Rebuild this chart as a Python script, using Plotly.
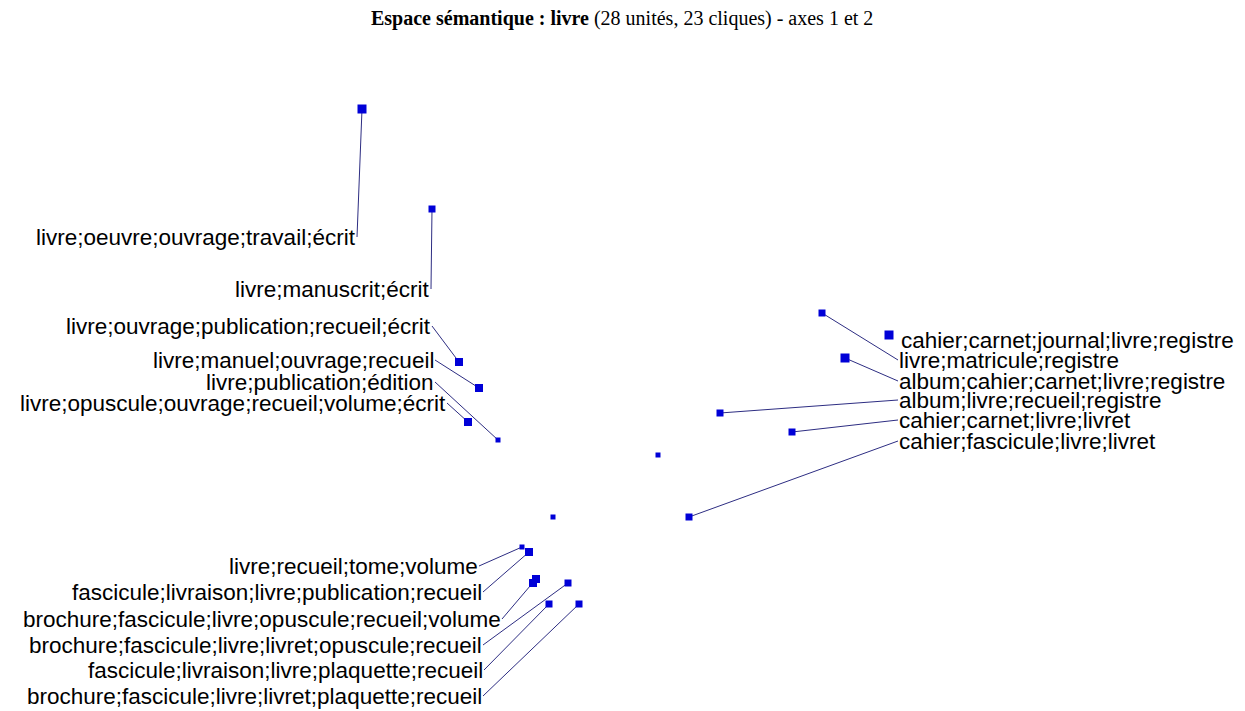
import plotly.graph_objects as go

# ---- data: factor scores (axis 1, axis 2) of the units ----
unit_f1 = [-2.48, -1.78, -1.51, -1.31, -1.42, -1.12, 0.48, -0.57,
           -0.88, -0.81, -0.74, -0.77, -0.42, -0.61, -0.31,
           2.12, 2.79, 2.35, 1.10, 1.82, 0.79]
unit_f2 = [3.46, 2.46, 0.93, 0.67, 0.33, 0.15, 0.00, -0.62,
           -0.92, -0.97, -1.24, -1.28, -1.28, -1.49, -1.49,
           1.42, 1.20, 0.97, 0.42, 0.23, -0.62]
unit_weight = [9, 7, 8, 8, 8, 5, 5, 5,
               5, 8, 8, 8, 7, 7, 7,
               7, 9, 9, 7, 7, 7]
unit_labels = [
    "livre;oeuvre;ouvrage;travail;écrit",
    "livre;manuscrit;écrit",
    "livre;ouvrage;publication;recueil;écrit",
    "livre;manuel;ouvrage;recueil",
    "livre;opuscule;ouvrage;recueil;volume;écrit",
    "livre;publication;édition",
    "",
    "",
    "livre;recueil;tome;volume",
    "fascicule;livraison;livre;publication;recueil",
    "brochure;fascicule;livre;opuscule;recueil;volume",
    "",
    "brochure;fascicule;livre;livret;opuscule;recueil",
    "fascicule;livraison;livre;plaquette;recueil",
    "brochure;fascicule;livre;livret;plaquette;recueil",
    "livre;matricule;registre",
    "cahier;carnet;journal;livre;registre",
    "album;cahier;carnet;livre;registre",
    "album;livre;recueil;registre",
    "cahier;carnet;livre;livret",
    "cahier;fascicule;livre;livret",
]

# ---- layout: label anchor positions (same plane units), side, leader line ----
label_pos = [
    (-2.53, 2.18, "right", True),
    (-1.79, 1.66, "right", True),
    (-1.78, 1.29, "right", True),
    (-1.75, 0.95, "right", True),
    (-1.63, 0.52, "right", True),
    (-1.75, 0.73, "right", True),
    None,
    None,
    (-1.31, -1.11, "right", True),
    (-1.27, -1.37, "right", True),
    (-1.08, -1.64, "right", True),
    None,
    (-1.27, -1.90, "right", True),
    (-1.26, -2.15, "right", True),
    (-1.27, -2.41, "right", True),
    (2.88, 0.95, "left", True),
    (2.90, 1.15, "left", False),
    (2.88, 0.74, "left", True),
    (2.88, 0.55, "left", True),
    (2.88, 0.35, "left", True),
    (2.88, 0.14, "left", True),
]

TITLE = "<b>Espace sémantique : livre</b> (28 unités, 23 cliques) - axes 1 et 2"

fig = go.Figure()

# leader lines
lx, ly = [], []
for i, pos in enumerate(label_pos):
    if pos is None or not pos[3]:
        continue
    lx += [pos[0], unit_f1[i], None]
    ly += [pos[1], unit_f2[i], None]
fig.add_trace(go.Scatter(x=lx, y=ly, mode="lines",
                         line=dict(color="rgb(45,45,130)", width=1),
                         hoverinfo="skip", showlegend=False))

# unit markers
fig.add_trace(go.Scatter(x=unit_f1, y=unit_f2, mode="markers",
                         marker=dict(symbol="square", size=unit_weight,
                                     color="rgb(0,0,215)", opacity=1,
                                     line=dict(width=0)),
                         text=unit_labels, hoverinfo="text", showlegend=False))

# labels
for i, pos in enumerate(label_pos):
    if pos is None:
        continue
    fig.add_annotation(x=pos[0], y=pos[1], text=unit_labels[i],
                       showarrow=False, xanchor=pos[2], yanchor="middle",
                       borderpad=0,
                       font=dict(family="Liberation Sans, Arial", size=22.5,
                                 color="black"))

fig.update_layout(
    width=1237, height=703,
    margin=dict(l=0, r=0, t=0, b=0),
    paper_bgcolor="white", plot_bgcolor="white",
    title=dict(text=TITLE, x=0.4965, xanchor="center", y=0.986,
               yanchor="middle", yref="container",
               font=dict(family="Liberation Serif, Times New Roman",
                         size=20, color="black")),
    xaxis=dict(range=[-6.02, 6.35], visible=False, fixedrange=True),
    yaxis=dict(range=[-2.56, 4.47], visible=False, fixedrange=True),
)

fig.write_html("out.html")
